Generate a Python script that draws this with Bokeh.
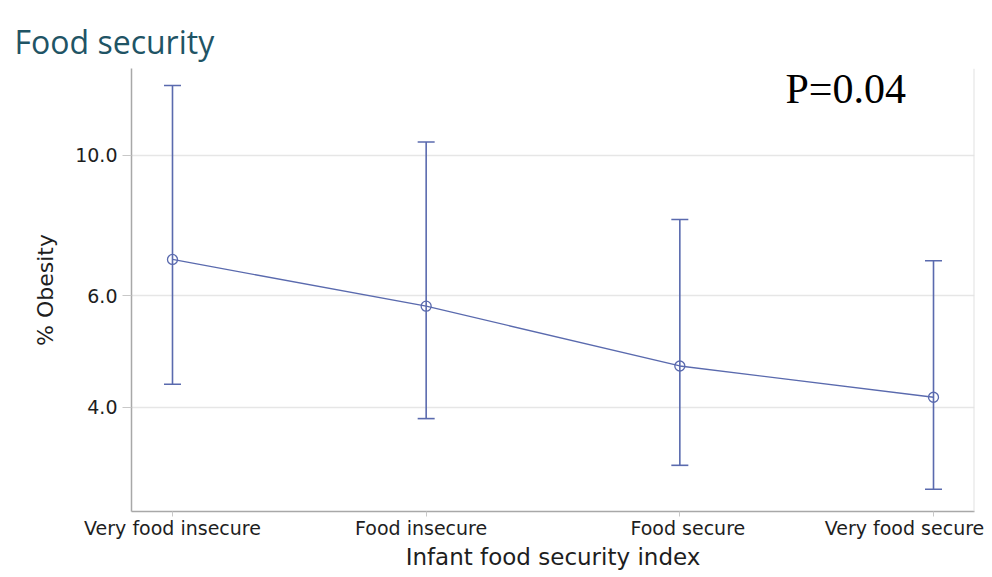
from bokeh.plotting import figure
from bokeh.models import (Range1d, FixedTicker, PrintfTickFormatter, Whisker,
                          TeeHead, ColumnDataSource, Label, LinearAxis, Span)
from bokeh.embed import file_html
from bokeh.resources import INLINE

# Infant food security index categories and % obesity estimates with 95% CI
categories = ["Very food insecure", "Food insecure", "Food secure", "Very food secure"]
obesity_pct = [6.85, 5.78, 4.65, 4.15]
ci_upper = [12.9, 10.5, 7.92, 6.82]
ci_lower = [4.35, 3.84, 3.24, 2.97]
y_ticks = [4, 6, 10]
p_value_text = "P=0.04"
title_text = "Food security"

BLUE = "#5A6AAE"
AXIS_GRAY = "#A8A8A8"
TEXT = "#1E1E1E"
FONT = "DejaVu Sans"

X_START, X_END = -0.1616, 3.1616
PLOT_W = 992
BORDER_L, BORDER_R = 131, 18
px_per_unit = (PLOT_W - BORDER_L - BORDER_R) / (X_END - X_START)

xs = list(range(len(categories)))
src = ColumnDataSource(dict(x=xs, y=obesity_pct, upper=ci_upper, lower=ci_lower))

p = figure(width=PLOT_W, height=577, output_backend="svg", toolbar_location=None,
           y_axis_type="log",
           x_range=Range1d(X_START, X_END), y_range=Range1d(2.739, 13.72),
           min_border_left=BORDER_L, min_border_right=BORDER_R, min_border_top=68,
           min_border_bottom=66)
p.outline_line_color = None
p.background_fill_color = "white"
p.border_fill_color = "white"

# heading
p.title.text = title_text
p.title.text_font = "Open Sans"
p.title.text_font_size = "32px"
p.title.text_font_style = "normal"
p.title.text_color = "#1F5465"
p.title.align = "left"
p.title.offset = -117
p.title.standoff = 12

# faint right edge of the panel
p.add_layout(Span(location=X_END, dimension="height", line_color="#E2E2E2",
                  line_width=2))

# error bars
whisk = Whisker(source=src, base="x", upper="upper", lower="lower",
                dimension="height", line_color=BLUE, line_width=1.6,
                upper_head=TeeHead(size=17, line_color=BLUE, line_width=1.6),
                lower_head=TeeHead(size=17, line_color=BLUE, line_width=1.6))
p.add_layout(whisk)

# trend line and open circle markers
p.line("x", "y", source=src, line_color=BLUE, line_width=1.3)
p.scatter("x", "y", source=src, marker="circle", size=10, fill_color=None,
          line_color=BLUE, line_width=1.3)

# y axis
yax = p.yaxis[0]
yax.ticker = FixedTicker(ticks=y_ticks, minor_ticks=[])
yax.formatter = PrintfTickFormatter(format="%.1f")
yax.axis_label = "% Obesity"
yax.axis_label_text_font = FONT
yax.axis_label_text_font_size = "22px"
yax.axis_label_text_font_style = "normal"
yax.axis_label_text_color = TEXT
yax.axis_label_standoff = 14
yax.major_label_text_font = FONT
yax.major_label_text_font_size = "19px"
yax.major_label_text_color = TEXT
yax.major_label_standoff = 5
yax.axis_line_color = AXIS_GRAY
yax.axis_line_width = 1.5
yax.major_tick_line_color = "#C8C8C8"
yax.major_tick_in = 0
yax.major_tick_out = 9
yax.minor_tick_line_color = None

# x axis: tick marks at each category
xax = p.xaxis[0]
xax.ticker = FixedTicker(ticks=xs, minor_ticks=[])
xax.major_label_overrides = {i: "" for i in xs}
xax.major_label_text_font_size = "1px"
xax.major_label_standoff = 0
xax.axis_line_color = AXIS_GRAY
xax.axis_line_width = 1.5
xax.major_tick_line_color = "#C8C8C8"
xax.major_tick_in = 0
xax.major_tick_out = 5
xax.minor_tick_line_color = None

# category names, nudged so the last one stays inside the panel
label_shift_px = [0, -5, 8, -29]
label_pos = [x + d / px_per_unit for x, d in zip(xs, label_shift_px)]
lab_axis = LinearAxis(ticker=FixedTicker(ticks=label_pos, minor_ticks=[]),
                      major_label_overrides={pos: name for pos, name in zip(label_pos, categories)})
lab_axis.axis_line_color = None
lab_axis.major_tick_line_color = None
lab_axis.minor_tick_line_color = None
lab_axis.major_tick_out = 0
lab_axis.major_tick_in = 0
lab_axis.major_label_standoff = 0
lab_axis.major_label_text_font = FONT
lab_axis.major_label_text_font_size = "19px"
lab_axis.major_label_text_color = TEXT
lab_axis.axis_label = "Infant food security index"
lab_axis.axis_label_text_font = FONT
lab_axis.axis_label_text_font_size = "23px"
lab_axis.axis_label_text_font_style = "normal"
lab_axis.axis_label_text_color = TEXT
lab_axis.axis_label_standoff = 2
p.add_layout(lab_axis, "below")

p.xgrid.grid_line_color = None
p.ygrid.grid_line_color = "#E6E6E6"
p.ygrid.grid_line_width = 1.5

# p-value
p.add_layout(Label(x=654, y=423, x_units="screen", y_units="screen",
                   text=p_value_text, text_font="Liberation Serif",
                   text_font_size="42px", text_color="black", text_align="left",
                   text_baseline="alphabetic"))

open("out.html", "w").write(file_html(p, INLINE))
